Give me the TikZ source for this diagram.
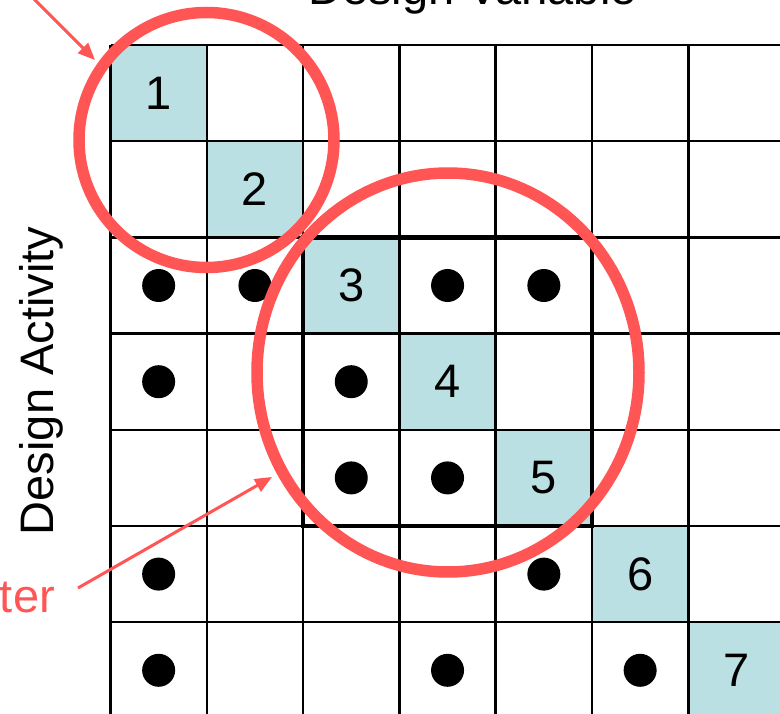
\documentclass[tikz,border=0pt]{standalone}
\usepackage{fontspec}
\setmainfont{Liberation Sans}
\usetikzlibrary{arrows.meta,shapes.geometric}
\definecolor{cellblue}{RGB}{187,224,227}
\definecolor{hired}{RGB}{255,85,85}
\begin{document}
\begin{tikzpicture}[x=1pt,y=-1pt,
  gridline/.style={line width=2.5pt},
  bigtext/.style={font=\fontsize{47}{56}\selectfont, inner sep=0pt},
  numlabel/.style={font=\fontsize{47}{56}\selectfont, inner sep=0pt},
  dotnode/.style={circle, fill=black, minimum size=33pt, inner sep=0pt},
  ringnode/.style={draw=hired, line width=11.5pt, inner sep=0pt},
  redarrow/.style={draw=hired, line width=3pt, -{Triangle[length=17pt,width=14pt]}}]
\useasboundingbox (0,0) rectangle (780,714);
\clip (0,0) rectangle (780,714);
\fill[white] (0,0) rectangle (780,714);
% diagonal cells
\foreach \i in {1,...,7} {
  \fill[cellblue] ({110.5+96.3*(\i-1)},{45+96.2*(\i-1)}) rectangle ++(96.3,96.2);
}
% grid lines
\foreach \k in {0,...,7} {
  \draw[gridline] ({110.5+96.3*\k},45) -- ({110.5+96.3*\k},730);
  \draw[gridline] (110.5,{45+96.2*\k}) -- (800,{45+96.2*\k});
}
% numbers
\foreach \i in {1,...,7} {
  \node[numlabel] (n\i) at ({110.5+96.3*(\i-0.5)},{45+96.2*(\i-0.5)}) {\i};
}
% dots
\foreach \c/\r [count=\j] in {1/3,2/3,4/3,5/3,1/4,3/4,3/5,4/5,1/6,5/6,1/7,4/7,6/7} {
  \node[dotnode] (d\j) at ({110.5+96.3*(\c-0.5)},{45+96.2*(\r-0.5)}) {};
}
% cluster box
\draw[line width=4.5pt] (303.1,237.4) rectangle (592,526);
% rings
\node[ringnode, circle, minimum size=255pt] (ring1) at (206.5,140) {};
\node[ringnode, ellipse, minimum width=382pt, minimum height=399pt] (ring2) at (448,372.5) {};
% axis labels
\node[bigtext, anchor=base] (toplabel) at (472.5,5) {Design Variable};
\node[bigtext, rotate=90] (sidelabel) at (41,381) {Design Activity};
\node[bigtext, text=hired, anchor=base east] (clusterlabel) at (55,612) {ter};
% arrows
\coordinate (a1s) at (-25,-60);
\coordinate (a1e) at (95,60);
\coordinate (a2s) at (78,588);
\coordinate (a2e) at (272,477);
\draw[redarrow] (a1s) -- (a1e);
\draw[redarrow] (a2s) -- (a2e);
\end{tikzpicture}
\end{document}
